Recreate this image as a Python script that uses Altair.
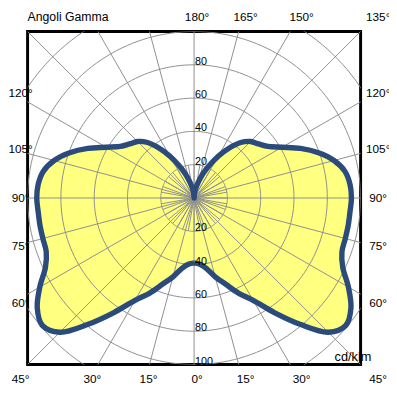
import altair as alt
import pandas as pd

# ---- data (gamma angle in degrees, intensity in cd/klm)
gamma = list(range(0, 181, 5))
intensity = [39, 40, 43, 49, 55, 63, 71, 84, 99, 114,
             119, 115, 107, 98.5, 94.5, 94, 94, 94, 94.5, 94,
             92, 87, 79.5, 70.5, 61, 54, 50.5, 48, 43.5, 36.5,
             29, 21.5, 15.5, 10, 6, 3, 0]

ring_values = [20, 40, 60, 80, 100, 120]
upper_labels = [20, 40, 60, 80]
lower_labels = [20, 40, 60, 80, 100]
spoke_angles = list(range(0, 360, 15))
inner_spoke_angles = list(range(0, 360, 10))

left_col = [120, 105, 90, 75, 60]
right_col = [120, 105, 90, 75, 60]
bottom_left = [45, 30, 15]
bottom_right = [0, 15, 30, 45]
top_right = [180, 165, 150, 135]

title_text = "Angoli Gamma"
unit_text = "cd/klm"

FILL = "#FFFF80"
LINE = "#2B4B7C"
GRID = "#8E8E8E"
FONT = "Liberation Sans"
L = 108.8  # label square half-size in intensity units

# ---- tables built from the arrays
n = len(gamma)
poly = pd.DataFrame({
    "gamma": gamma + gamma[::-1] + [gamma[0]],
    "I": intensity + intensity[::-1] + [intensity[0]],
    "side": [1] * n + [-1] * n + [1],
    "order": list(range(2 * n + 1)),
})

rings = pd.DataFrame([{"r": r, "a": a} for r in ring_values for a in range(0, 361, 2)])
spokes = pd.DataFrame({"a": spoke_angles + inner_spoke_angles,
                       "len": [200] * len(spoke_angles) + [20] * len(inner_spoke_angles)})
rlabels = pd.DataFrame({"v": upper_labels + lower_labels,
                        "sgn": [1] * len(upper_labels) + [-1] * len(lower_labels)})
alabels = pd.DataFrame(
    [{"g": g, "side": -1} for g in left_col]
    + [{"g": g, "side": 1} for g in right_col]
    + [{"g": g, "side": -1} for g in bottom_left]
    + [{"g": g, "side": 1} for g in bottom_right]
    + [{"g": g, "side": 1} for g in top_right]
)

sx = alt.Scale(domain=[-100, 100], nice=False, zero=False)
sy = alt.Scale(domain=[-100, 100], nice=False, zero=False)
X = lambda f: alt.X(f, type="quantitative", scale=sx, axis=None)
Y = lambda f: alt.Y(f, type="quantitative", scale=sy, axis=None)

polar = dict(px="datum.side * datum.I * sin(datum.gamma * PI / 180)",
             py="-datum.I * cos(datum.gamma * PI / 180)")

fill_layer = alt.Chart(poly).transform_calculate(**polar).mark_line(
    fill=FILL, strokeOpacity=0, interpolate="catmull-rom"
).encode(x=X("px"), y=Y("py"), order=alt.Order("order:Q"))

ring_layer = alt.Chart(rings).transform_calculate(
    px="datum.r * cos(datum.a * PI / 180)", py="datum.r * sin(datum.a * PI / 180)"
).mark_line(color=GRID, strokeWidth=1, clip=True).encode(
    x=X("px"), y=Y("py"), detail="r:N", order=alt.Order("a:Q"))

spoke_layer = alt.Chart(spokes).transform_calculate(
    x0="0", y0="0",
    x1="datum.len * cos(datum.a * PI / 180)", y1="datum.len * sin(datum.a * PI / 180)"
).mark_rule(color=GRID, strokeWidth=1, clip=True).encode(
    x=X("x0"), y=Y("y0"), x2="x1:Q", y2="y1:Q")

line_layer = alt.Chart(poly).transform_calculate(**polar).mark_line(
    color=LINE, strokeWidth=5.5, strokeJoin="round", interpolate="catmull-rom"
).encode(x=X("px"), y=Y("py"), order=alt.Order("order:Q"))

rlabel_layer = alt.Chart(rlabels).transform_calculate(
    px="0", py="datum.v * datum.sgn", t="'' + datum.v"
).mark_text(align="left", baseline="alphabetic", dx=1, fontSize=11, font=FONT,
            color="black").encode(x=X("px"), y=Y("py"), text="t:N")

alabel_layer = alt.Chart(alabels).transform_calculate(
    rad="datum.g * PI / 180",
    m="max(abs(sin(datum.g * PI / 180)), abs(cos(datum.g * PI / 180)))",
).transform_calculate(
    px0=f"datum.side * sin(datum.rad) * {L} / datum.m",
    py=f"-cos(datum.rad) * {L} / datum.m",
    t="datum.g + '°'",
).transform_calculate(
    px="datum.px0 < -100 ? datum.px0 + 2.8 : datum.px0"
).mark_text(align="center", baseline="middle", dx=3, fontSize=12, font=FONT,
            color="black").encode(x=X("px"), y=Y("py"), text="t:N")

title_layer = alt.Chart(pd.DataFrame({"t": [title_text]})).transform_calculate(
    px="-100", py="100"
).mark_text(align="left", baseline="alphabetic", dy=-10.5, fontSize=12.5, font=FONT,
            color="black").encode(x=X("px"), y=Y("py"), text="t:N")

unit_layer = alt.Chart(pd.DataFrame({"t": [unit_text]})).transform_calculate(
    px="100", py="-100"
).mark_text(align="right", baseline="alphabetic", dx=11, dy=-4, fontSize=13, font=FONT,
            color="black").encode(x=X("px"), y=Y("py"), text="t:N")

chart = alt.layer(
    fill_layer, ring_layer, spoke_layer, line_layer,
    rlabel_layer, alabel_layer, title_layer, unit_layer
).properties(
    width=340, height=340,
    autosize=alt.AutoSizeParams(type="none"),
    padding={"left": 20, "top": 20, "right": 29, "bottom": 20},
).configure_view(stroke="black", strokeWidth=3)

chart.save("out.html", embed_options={"renderer": "svg", "actions": False})
